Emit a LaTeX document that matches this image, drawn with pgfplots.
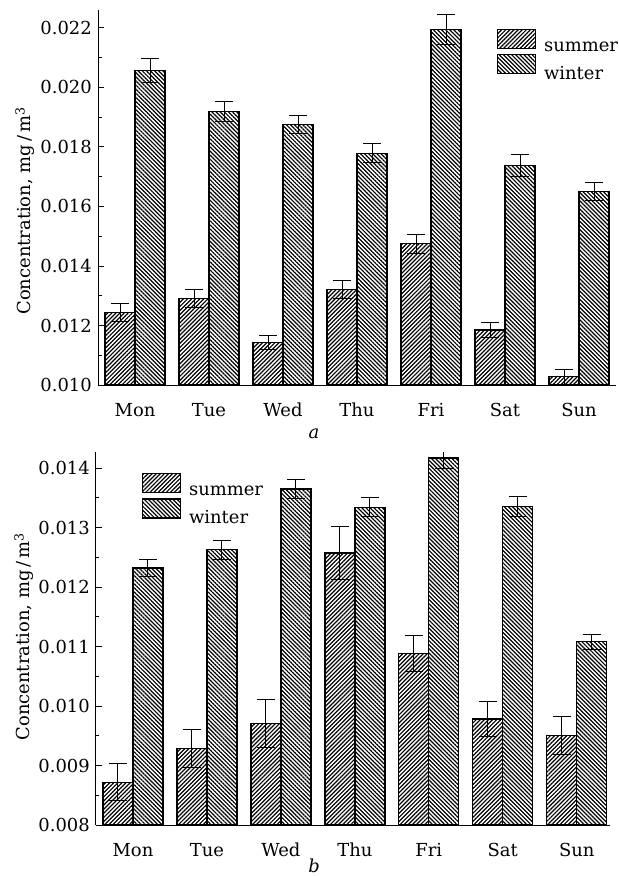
\documentclass[border=0pt]{standalone}
\usepackage{fontspec}
\setmainfont{DejaVu Serif}
\usepackage{pgfplots}
\pgfplotsset{compat=1.18}
\usetikzlibrary{patterns.meta}

\pgfplotstableread{
x summer serr winter werr
0 0.01244 0.00030 0.02056 0.00040
1 0.01291 0.00030 0.01919 0.00033
2 0.01143 0.00025 0.01876 0.00030
3 0.01322 0.00030 0.01779 0.00031
4 0.01475 0.00032 0.02195 0.00050
5 0.01185 0.00026 0.01737 0.00037
6 0.01028 0.00025 0.01649 0.00030
}\dataA

\pgfplotstableread{
x summer serr winter werr
0 0.00872 0.00031 0.01232 0.00015
1 0.00929 0.00032 0.01263 0.00016
2 0.00971 0.00040 0.01365 0.00016
3 0.01257 0.00045 0.01334 0.00016
4 0.01088 0.00030 0.01417 0.00017
5 0.00978 0.00029 0.01335 0.00017
6 0.00951 0.00032 0.01108 0.00013
}\dataB

\newcommand{\fs}{\fontsize{18}{22}\selectfont}

\pgfplotsset{
  myax/.style={
    scale only axis,
    axis x line*=bottom, axis y line*=left,
    axis line style={line width=1bp, black},
    tick align=inside,
    major tick length=6bp, minor tick length=3.5bp,
    every tick/.style={black, line width=0.9bp},
    xtick style={draw=none},
    xmin=-0.5,
    xtick={0,...,6},
    xticklabels={Mon,Tue,Wed,Thu,Fri,Sat,Sun},
    ybar=0pt, bar width=30bp,
    minor y tick num=1,
    scaled y ticks=false,
    yticklabel style={/pgf/number format/.cd, fixed, fixed zerofill, precision=3, assume math mode=true},
    xticklabel style={anchor=base, yshift=-25.5bp},
    font=\fs,
    tick label style={font=\fs},
    every axis plot post/.append style={
      legend image code/.code={\draw[####1, line width=1.2bp] (0bp,0bp) rectangle (38bp,19bp);}
    },
    legend style={draw=none, fill=none, inner sep=0pt, row sep=0bp, column sep=8bp,
      nodes={inner sep=0pt}, font=\fs},
    legend cell align=left,
    ylabel={Concentration, mg\,/\,m\textsuperscript{3}},
  },
  summer/.style={draw=black, line width=1.3bp, fill=white,
    postaction={pattern={Lines[angle=45,distance=2.9bp,line width=1.2bp]}},
    error bars/.cd, y dir=both, y explicit,
    error bar style={line width=1bp, black},
    error mark options={rotate=90, mark size=9bp, line width=1bp, black}},
  winter/.style={draw=black, line width=1.3bp, fill=white,
    postaction={pattern={Lines[angle=-45,distance=2.9bp,line width=1.2bp]}},
    error bars/.cd, y dir=both, y explicit,
    error bar style={line width=1bp, black},
    error mark options={rotate=90, mark size=9bp, line width=1bp, black}},
}

\begin{document}
\fs
\begin{tikzpicture}
\useasboundingbox (0,0) rectangle (619bp,-876bp);
\begin{axis}[myax,
  at={(98bp,-385bp)}, anchor=south west,
  width=518bp, height=375bp,
  xmax=6.5,
  ymin=0.010, ymax=0.0226,
  ytick={0.010,0.012,...,0.0221},
  ylabel style={at={(axis description cs:-0.141,0.464)}, anchor=center},
  legend style={at={(axis description cs:0.7697,0.9512)}, anchor=north west},
]
\addplot[summer] table[x=x, y=summer, y error=serr] {\dataA};
\addlegendentry{summer}
\addplot[winter] table[x=x, y=winter, y error=werr] {\dataA};
\addlegendentry{winter}
\end{axis}
\node[anchor=base, font=\fs\itshape] at (314bp,-438bp) {a};

\begin{axis}[myax,
  at={(96bp,-825bp)}, anchor=south west,
  width=514bp, height=373bp,
  xmax=6.45,
  ymin=0.008, ymax=0.01427,
  ytick={0.008,0.009,...,0.01401},
  ylabel style={at={(axis description cs:-0.14,0.505)}, anchor=center},
  legend style={at={(axis description cs:0.0889,0.945)}, anchor=north west},
]
\addplot[summer] table[x=x, y=summer, y error=serr] {\dataB};
\addlegendentry{summer}
\addplot[winter] table[x=x, y=winter, y error=werr] {\dataB};
\addlegendentry{winter}
\end{axis}
\node[anchor=base, font=\fs\itshape] at (314bp,-872bp) {b};
\end{tikzpicture}
\end{document}
